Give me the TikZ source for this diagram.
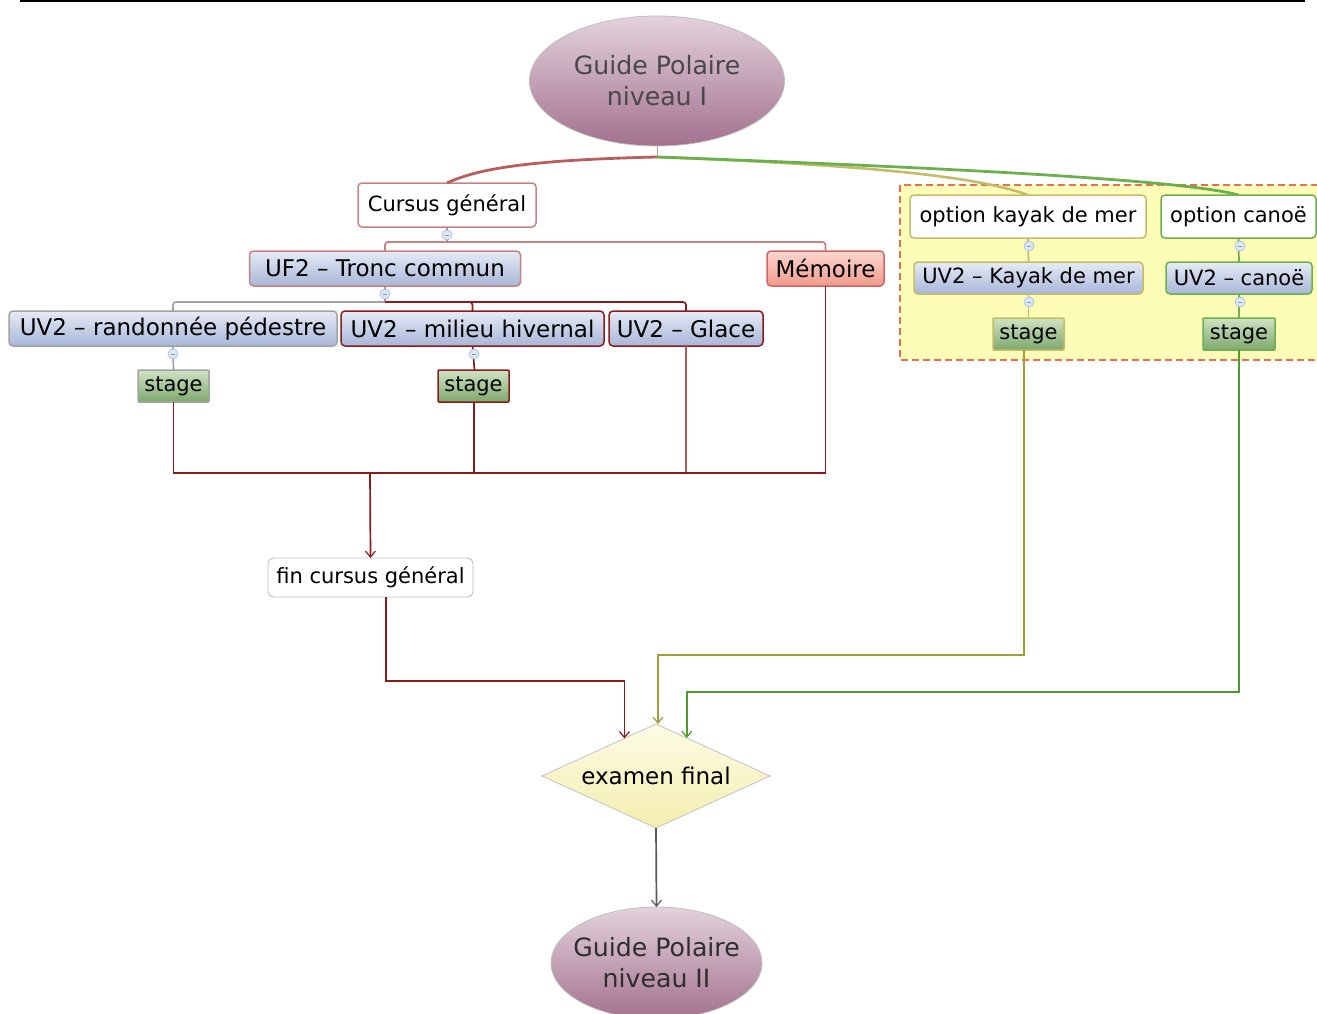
\documentclass[tikz,border=0pt]{standalone}
\usepackage{fontspec}
\setmainfont{DejaVu Sans}
\usetikzlibrary{shapes.geometric,arrows.meta}
\definecolor{bltop}{HTML}{E6EBF6}
\definecolor{blbot}{HTML}{A7B6D8}
\definecolor{grtop}{HTML}{CFE3C3}
\definecolor{grbot}{HTML}{7EA86E}
\definecolor{memtop}{HTML}{FCD6CE}
\definecolor{membot}{HTML}{F09A8C}
\definecolor{eltop}{HTML}{E3D2DC}
\definecolor{elbot}{HTML}{A3718E}
\definecolor{dmtop}{HTML}{FDFCE6}
\definecolor{dmbot}{HTML}{F3EEAE}
\definecolor{yelbg}{HTML}{FEFDB8}
\definecolor{dashc}{HTML}{E8704C}
\definecolor{rose}{HTML}{C98282}
\definecolor{memline}{HTML}{D46464}
\definecolor{dred}{HTML}{8E1B1B}
\definecolor{glred}{HTML}{B55858}
\definecolor{greyl}{HTML}{A2A2A2}
\definecolor{olivel}{HTML}{C4BC68}
\definecolor{olivec}{HTML}{A39C3A}
\definecolor{greenl}{HTML}{6CB04E}
\definecolor{greenc}{HTML}{4E9A2C}
\definecolor{redc}{HTML}{B85E5E}
\definecolor{knobline}{HTML}{A9BFE0}
\definecolor{knobfill}{HTML}{DCE7F8}
\definecolor{eltext}{HTML}{484848}
\newcommand\boxfont{\fontsize{21}{25}\selectfont}
\newcommand\bigboxfont{\fontsize{23}{27}\selectfont}
\newcommand\elfont{\fontsize{25.2}{31}\selectfont}
\tikzset{
  box/.style={draw, rounded corners=4pt, line width=1.5pt, inner sep=0pt, outer sep=0pt, font=\boxfont, text=black},
  bluebox/.style={box, top color=bltop, bottom color=blbot},
  greenbox/.style={box, top color=grtop, bottom color=grbot},
  whitebox/.style={box, fill=white},
  ell/.style={ellipse, draw=black!25, line width=0.8pt, top color=eltop, bottom color=elbot, inner xsep=-12pt, inner ysep=0pt, outer sep=0pt, align=center, font=\elfont, text=eltext},
  knob/.style={circle, draw=knobline, fill=knobfill, minimum size=10pt, inner sep=0pt, line width=0.7pt,
    path picture={\draw[knobline!80!black, line width=0.7pt] ([xshift=-2.2pt]path picture bounding box.center) -- ([xshift=2.2pt]path picture bounding box.center);}},
  link/.style={line width=1.7pt},
  arr/.style={link, -{Straight Barb[length=6pt,width=10pt,line width=1.2pt]}},
}
\begin{document}
\begin{tikzpicture}[x=1pt,y=-1pt]
\useasboundingbox (0,0) rectangle (1317,1014);
\clip (0,0) rectangle (1317,1014);
\draw[line width=2.5pt] (20,1) -- (1305,1);

% group background
\draw[dashc, fill=yelbg, line width=2.2pt, dash pattern=on 7pt off 4pt] (900,185) rectangle (1330,360);

% nodes
\node[ell, minimum width=255, minimum height=130] (top) at (657,81) {Guide Polaire\\niveau I};
\node[ell, minimum width=211, minimum height=112, text=black!82] (bot) at (656.5,963) {Guide Polaire\\niveau II};

\node[whitebox, draw=rose, minimum width=178, minimum height=44] (cg) at (447,205) {Cursus général};
\node[bluebox, draw=rose, font=\bigboxfont, minimum width=271, minimum height=35] (uf2) at (385,268.5) {UF2 – Tronc commun};
\node[box, draw=memline, font=\bigboxfont, top color=memtop, bottom color=membot, minimum width=117, minimum height=35] (mem) at (825.5,268.5) {Mémoire};
\node[bluebox, draw=greyl, font=\bigboxfont, minimum width=328, minimum height=35] (rando) at (173,328.5) {UV2 – randonnée pédestre};
\node[bluebox, draw=dred, font=\bigboxfont, minimum width=263, minimum height=35] (milieu) at (472.5,328.5) {UV2 – milieu hivernal};
\node[bluebox, draw=dred, font=\bigboxfont, minimum width=154, minimum height=35] (glace) at (686,328.5) {UV2 – Glace};
\node[greenbox, draw=greyl, rounded corners=1pt, minimum width=71, minimum height=32] (st1) at (173.5,386) {stage};
\node[greenbox, draw=dred, rounded corners=1pt, minimum width=71, minimum height=32] (st2) at (473.5,386) {stage};
\node[whitebox, draw=black!25, line width=0.9pt, rounded corners=6pt, minimum width=205, minimum height=39] (fin) at (370.5,577.5) {fin cursus général};

\node[diamond, aspect=2.19, draw=black!22, line width=0.9pt, top color=dmtop, bottom color=dmbot, minimum width=228, minimum height=104, inner sep=0pt, outer sep=0pt, font=\bigboxfont] (ex) at (656,776) {examen final};

\node[whitebox, draw=olivel, minimum width=236, minimum height=43] (optk) at (1028,216.5) {option kayak de mer};
\node[whitebox, draw=greenl, minimum width=155, minimum height=43] (optc) at (1238.5,216.5) {option canoë};
\node[bluebox, draw=olivel, minimum width=229, minimum height=32] (uvk) at (1028.5,278) {UV2 – Kayak de mer};
\node[bluebox, draw=greenl, minimum width=146, minimum height=32] (uvc) at (1239,278) {UV2 – canoë};
\node[greenbox, draw=olivel, rounded corners=1pt, minimum width=71, minimum height=32] (stk) at (1028.5,334) {stage};
\node[greenbox, draw=greenl, rounded corners=1pt, minimum width=72, minimum height=32] (stc) at (1239,334) {stage};

% top curves
\coordinate (tb) at (657,157);
\draw[greyl, line width=0.9pt] (top.south) -- (tb);
\draw[olivel, line width=2.6pt] (tb) .. controls +(260,10) and +(-40,-14) .. (optk.north);
\draw[greenl, line width=2.8pt] (tb) .. controls +(380,14) and +(-45,-12) .. (optc.north);
\draw[redc, line width=2.8pt] (tb) .. controls +(-130,3) and +(30,-14) .. (cg.north);

% cursus general tree
\coordinate (j1) at (447,242);
\draw[rose, link] (cg.south) -- (j1);
\draw[rose, link, rounded corners=3pt] (j1) -| (uf2.north);
\draw[rose, link, rounded corners=3pt] (j1) -| (mem.north);
\coordinate (j2) at (385,302);
\draw[rose, link] (uf2.south) -- (j2);
\draw[greyl, link, rounded corners=3pt] (j2) -| (rando.north);
\draw[dred, link, rounded corners=3pt] (j2) -| (milieu.north);
\draw[dred, link, rounded corners=3pt] (j2) -| (glace.north);
\draw[greyl, link] (rando.south) -- (st1.north);
\draw[dred, link] (milieu.south) -- ([xshift=1pt]st2.north);

% option trees
\draw[olivel, link] (optk.south) -- (uvk.north);
\draw[olivel, link] (uvk.south) -- (stk.north);
\draw[greenl, link] (optc.south) -- (uvc.north);
\draw[greenl, link] (uvc.south) -- (stc.north);

% knobs
\node[knob] (k1) at (447,235) {};
\node[knob] (k2) at (385,294) {};
\node[knob] (k3) at (173,354) {};
\node[knob] (k4) at (474,354) {};
\node[knob] (k5) at (1029,246) {};
\node[knob] (k6) at (1029,302) {};
\node[knob] (k7) at (1240,246) {};
\node[knob] (k8) at (1240,302) {};

% merge
\coordinate (m) at (370,473);
\draw[dred, link] (st1.south) |- (m);
\draw[dred, link] ([xshift=0.5pt]st2.south) |- (m);
\draw[glred, link] (glace.south) |- (m);
\draw[dred, link] (mem.south) |- (m);
\draw[dred, arr] (m) -- (fin.north);

% to exam
\draw[dred, arr] ([xshift=15.5pt]fin.south) -- ++(0,84) -| (ex.130.6);
\draw[olivec, arr] ([xshift=-4.5pt]stk.south) -- ++(0,305) -| ([xshift=2pt]ex.north);
\draw[greenc, arr] (stc.south) -- ++(0,342) -| (ex.51.9);
\draw[black!65, arr] (ex.south) -- (bot.north);
\end{tikzpicture}
\end{document}
